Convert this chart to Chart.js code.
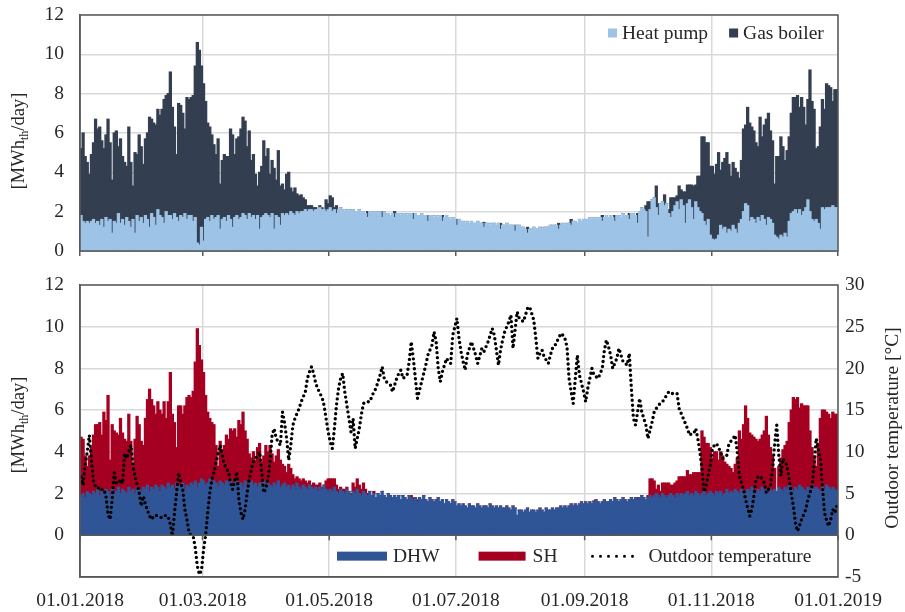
<!DOCTYPE html>
<html>
<head>
<meta charset="utf-8">
<script src="https://cdn.jsdelivr.net/npm/chart.js@4.4.1/dist/chart.umd.min.js"></script>
<style>
  body { margin: 0; background: #fff; }
  #wrap { position: relative; width: 905px; height: 612px; }
  canvas { position: absolute; left: 0; }
  #topChart { top: 0; }
  #bottomChart { top: 270px; }
</style>
</head>
<body>
<div id="wrap">
  <canvas id="topChart" width="905" height="270"></canvas>
  <canvas id="bottomChart" width="905" height="342"></canvas>
</div>
<script>
// x axis: day of year 2018, gridlines every second month
const tickDays = [0, 59, 120, 181, 243, 304, 365];
const tickLabels = ['01.01.2018', '01.03.2018', '01.05.2018', '01.07.2018', '01.09.2018', '01.11.2018', '01.01.2019'];

// top panel, MWh_th/day (one row per month)
const heatPump = [
  1.8,1.5,1.4,1.5,1.4,1.5,1.6,1.4,1.5,1.3,1.6,1.2,1.7,1.5,1.6,0.9,1.5,1.4,1.9,1.4,1.6,1.3,1.7,1.5,1.2,1.6,0.9,1.8,1.5,1.7,1.4,
  1.8,1.6,1.2,1.9,1.7,1.3,2.1,1.8,1.7,1.4,2.0,1.8,1.8,1.6,1.9,1.7,1.5,1.8,1.7,1.9,1.6,1.8,1.8,1.5,1.7,0.4,0.3,1.2,
  0.5,1.6,1.7,1.5,1.8,1.6,1.7,1.8,1.1,1.6,1.7,1.5,1.8,1.6,1.2,1.7,1.8,1.6,1.7,1.9,1.8,1.6,1.9,1.7,1.8,1.6,1.8,1.1,1.7,1.8,1.9,
  1.8,1.7,1.9,1.1,1.8,1.7,1.3,1.9,1.8,1.9,1.8,2.0,1.9,1.8,2.0,1.9,2.0,2.0,2.1,2.0,2.1,2.1,2.0,2.1,2.1,2.2,2.1,2.1,2.0,2.1,
  2.2,2.0,2.1,1.9,2.1,2.2,2.1,2.0,2.1,2.0,2.1,2.1,2.0,2.0,2.1,2.0,2.0,1.9,1.7,2.0,1.9,2.0,2.0,1.9,2.0,1.7,2.0,1.9,1.9,1.8,1.9,
  1.7,1.9,1.9,1.8,1.9,1.9,1.8,1.9,1.9,1.6,1.9,1.8,1.8,1.9,1.8,1.8,1.5,1.8,1.8,1.7,1.8,1.7,1.8,1.5,1.7,1.8,1.7,1.6,1.7,1.6,
  1.3,1.6,1.5,1.5,1.4,1.5,1.4,1.5,1.4,1.4,1.5,1.4,1.4,1.2,1.4,1.4,1.3,1.4,1.4,1.3,1.4,1.1,1.3,1.3,1.4,1.3,1.3,1.3,1.0,1.3,1.3,
  1.2,1.2,1.1,0.9,1.1,1.1,1.2,1.1,1.1,1.2,1.1,1.2,1.2,1.2,1.3,1.3,1.3,1.3,1.1,1.3,1.4,1.3,1.4,1.4,1.3,1.5,1.5,1.4,1.6,1.5,1.6,
  1.6,1.6,1.7,1.6,1.7,1.7,1.6,1.7,1.5,1.7,1.8,1.7,1.8,1.7,1.5,1.8,1.8,1.7,1.9,1.8,1.8,1.6,1.9,1.9,1.8,1.4,2.0,2.2,2.1,2.0,
  0.7,2.1,2.6,2.7,2.2,1.8,2.4,2.5,2.3,2.4,1.9,1.7,2.0,2.3,2.5,2.1,2.6,2.3,1.4,2.4,2.6,2.2,1.6,2.5,2.2,2.0,1.9,1.5,1.3,1.6,0.8,
  0.6,0.55,0.6,0.8,1.3,1.1,1.2,0.9,1.1,1.0,1.3,1.1,0.9,1.4,1.6,2.0,2.4,2.3,1.5,1.7,1.6,1.4,1.7,1.5,1.8,1.6,1.3,1.7,1.6,1.4,
  0.8,0.7,0.6,0.8,0.7,0.9,0.7,1.5,1.9,2.0,2.1,1.9,2.1,1.8,2.0,2.2,2.6,2.0,1.6,1.5,1.6,1.4,1.1,2.2,2.1,2.2,2.2,2.2,2.3,2.2,2.2
];
const gasBoiler = [
  3.4,4.5,3.4,3.0,2.5,3.4,3.9,5.3,4.7,5.0,4.0,4.0,4.2,5.2,3.9,2.7,4.5,4.7,3.4,4.3,3.2,3.2,2.6,4.8,3.3,1.7,4.1,3.1,4.4,3.6,3.0,
  3.9,4.4,5.6,4.8,4.8,5.1,5.1,5.1,5.5,6.3,5.9,6.2,7.3,5.7,4.4,3.2,6.0,5.6,5.3,4.3,6.2,5.9,6.0,6.4,7.7,10.2,9.9,8.2,
  8.0,6.0,4.8,4.8,4.1,3.8,3.2,3.9,2.3,3.0,3.2,3.3,3.0,4.6,4.7,3.2,3.9,4.2,4.5,4.9,4.8,3.7,4.2,2.9,3.1,2.3,1.5,2.9,2.6,3.8,2.9,
  3.4,2.2,2.7,3.1,1.8,3.4,2.0,1.5,1.3,2.0,2.2,1.2,1.1,1.4,0.9,0.9,0.85,0.7,0.5,0.3,0.2,0.2,0.2,0.1,0,0.1,0.1,0,0.6,0.3,
  0.6,0.7,0.1,0.4,0,0,0,0,0,0,0,0,0,0,0,0,0,0,0.3,0,0,0,0,0,0,0.3,0,0,0,0,0,
  0.3,0,0,0,0,0,0,0,0,0.3,0,0,0,0,0,0,0.3,0,0,0,0,0,0,0.3,0,0,0,0,0,0,
  0.3,0,0,0,0,0,0,0,0,0,0,0,0,0.25,0,0,0,0,0,0,0,0.3,0,0,0,0,0,0,0.3,0,0,
  0,0,0,0.3,0,0,0,0,0,0,0,0,0,0,0,0,0,0,0.3,0,0,0,0,0,0.3,0,0,0,0,0,0,
  0,0,0,0,0,0,0,0,0.3,0,0,0,0,0,0.3,0,0,0,0,0,0,0.3,0,0,0,0.5,0,0,0,0.3,
  1.8,0.4,0,0,1.1,0.6,0,0,0.55,0,0.2,1.0,0.7,0.4,0.3,1.2,0.5,0.7,1.6,0.95,0.75,1.15,1.7,0.85,1.6,1.8,3.9,4.3,4.2,3.9,3.5,
  3.7,3.35,3.8,4.2,2.8,3.4,3.5,4.1,3.3,2.8,3.2,3.1,3.1,2.3,3.0,4.2,4.0,5.0,5.0,4.6,4.5,4.1,3.6,5.3,4.0,4.8,5.4,5.3,4.5,4.2,
  2.6,4.1,4.2,5.0,4.6,3.7,4.4,4.3,5.1,5.8,5.7,6.0,5.2,6.0,5.3,4.2,5.1,7.2,6.0,5.7,3.6,3.9,5.2,5.5,5.1,6.3,6.2,6.1,5.3,6.0,6.0
];

// bottom panel, MWh_th/day
const dhw = [
  1.9,2.0,1.8,2.1,2.0,1.9,2.1,2.0,2.2,1.9,2.1,2.0,2.2,2.1,1.9,2.2,2.0,2.1,2.3,2.0,2.2,2.1,2.0,2.3,2.1,2.2,2.0,2.3,2.2,2.1,2.3,
  2.2,2.4,2.1,2.3,2.2,2.4,2.3,2.1,2.4,2.3,2.2,2.5,2.3,2.4,2.2,2.5,2.4,2.3,2.5,2.2,2.4,2.3,2.5,2.4,2.6,2.3,2.5,2.7,
  2.6,2.4,2.5,2.7,2.4,2.6,2.5,2.3,2.6,2.5,2.4,2.6,2.5,2.7,2.4,2.5,2.6,2.4,2.5,2.3,2.6,2.4,2.5,2.6,2.4,2.5,2.3,2.5,2.4,2.6,2.4,
  2.5,2.4,2.3,2.5,2.4,2.6,2.3,2.4,2.5,2.3,2.4,2.2,2.4,2.3,2.5,2.3,2.2,2.4,2.3,2.2,2.4,2.3,2.2,2.3,2.1,2.3,2.2,2.4,2.2,2.1,
  2.2,2.1,2.3,2.1,2.0,2.2,2.1,2.0,2.2,2.1,1.9,2.1,2.0,2.2,2.0,1.9,2.1,2.0,1.9,2.1,1.9,2.0,1.8,2.0,1.9,2.1,1.9,1.8,2.0,1.9,1.8,
  1.9,1.8,1.9,1.7,1.9,1.8,1.7,1.9,1.8,1.7,1.8,1.6,1.8,1.7,1.9,1.7,1.6,1.8,1.7,1.6,1.7,1.8,1.6,1.7,1.5,1.7,1.6,1.5,1.7,1.6,
  1.4,1.5,1.4,1.5,1.4,1.3,1.5,1.4,1.4,1.3,1.5,1.4,1.3,1.4,1.4,1.3,1.5,1.4,1.3,1.4,1.3,1.4,1.3,1.3,1.4,1.3,1.2,1.4,1.3,0.95,1.2,
  1.2,1.1,1.2,1.3,1.1,1.2,1.2,1.1,1.2,1.3,1.2,1.1,1.3,1.2,1.2,1.3,1.2,1.3,1.3,1.4,1.3,1.4,1.3,1.4,1.5,1.4,1.5,1.4,1.5,1.6,1.5,
  1.6,1.5,1.6,1.5,1.6,1.7,1.6,1.5,1.6,1.7,1.6,1.6,1.7,1.6,1.8,1.7,1.6,1.7,1.8,1.7,1.6,1.7,1.8,1.7,1.8,1.7,1.8,1.9,1.8,1.7,
  1.8,1.9,1.8,1.9,2.0,1.9,1.8,2.0,1.9,1.8,1.9,2.0,1.9,1.8,2.0,1.9,2.0,1.9,2.0,2.1,1.9,2.0,1.9,2.1,2.0,1.9,2.0,2.1,1.9,2.0,2.1,
  2.0,1.9,2.1,2.0,2.1,1.9,2.0,2.2,2.0,2.1,2.0,2.2,2.1,2.0,2.2,2.1,2.0,2.2,2.1,2.3,2.1,2.0,2.2,2.1,2.3,2.1,2.2,2.0,2.2,2.1,
  2.2,2.1,2.3,2.2,2.1,2.3,2.2,2.4,2.2,2.1,2.3,2.2,2.4,2.3,2.2,2.1,2.3,2.2,2.4,2.2,2.3,2.2,2.1,2.3,2.2,2.4,2.3,2.2,2.3,2.2,2.1
];
const sh = [
  2.8,2.6,2.0,1.2,1.8,2.3,2.7,3.3,3.1,3.5,2.7,3.9,3.3,4.6,1.7,3.1,3.0,2.8,2.5,3.6,2.7,2.5,2.5,3.5,2.4,1.1,2.6,3.4,3.1,2.4,2.0,
  3.4,4.1,4.9,4.2,4.0,3.4,4.1,3.9,3.4,4.1,3.4,3.9,5.5,3.4,3.2,1.7,3.8,3.9,3.3,4.0,4.2,4.4,4.1,4.5,5.7,7.6,6.6,5.7,
  5.2,4.3,3.4,2.9,3.0,2.7,1.8,1.0,1.9,1.6,1.9,2.2,2.1,2.4,2.6,2.6,2.1,3.1,2.8,3.6,2.4,2.2,1.4,1.1,1.6,1.1,1.9,1.9,1.1,1.2,1.9,
  1.5,1.9,1.6,1.0,1.4,1.5,1.3,1.0,0.8,0.7,1.0,1.0,0.5,0.4,0.3,0.4,0.4,0.3,0.3,0.3,0.2,0.1,0.3,0.1,0.3,0.2,0.1,0,0.4,0.6,
  0.5,0.6,0.4,0.3,0.2,0.1,0.1,0.2,0.1,0,0.1,0.4,0.3,0.5,0.4,0.3,0.4,0.2,0.1,0,0,0.1,0,0,0,0,0,0,0,0,0,
  0,0,0,0,0,0,0,0,0.1,0.1,0,0.1,0,0,0,0,0,0,0,0,0,0,0,0,0,0,0,0,0,0,
  0,0,0,0,0,0,0,0,0,0,0,0,0,0,0,0,0,0,0,0,0,0,0,0,0,0,0,0,0,0,0,
  0,0,0,0,0,0,0,0,0,0,0,0,0,0,0,0,0,0,0,0,0,0,0,0,0,0,0,0,0,0,0,
  0,0,0,0,0.05,0,0,0,0,0,0,0,0,0,0,0,0,0,0,0,0,0,0,0,0,0.1,0,0,0,0,
  0.1,0.8,0.9,0.7,0.2,0.5,0.3,0.5,0.6,0.7,0.6,0.4,0.5,0.7,0.6,0.9,0.8,0.9,0.8,1.0,1.0,0.9,1.1,0.9,1.0,1.1,3.0,2.6,2.5,2.4,2.1,
  1.7,2.1,1.9,1.6,1.9,1.9,1.5,1.2,1.3,1.1,1.0,1.2,1.6,3.0,2.4,3.2,4.2,3.4,2.8,2.5,2.6,2.6,2.3,2.5,2.5,2.9,3.5,2.8,2.0,1.7,
  1.0,0,1.0,1.5,2.0,2.0,2.3,3.0,3.8,4.5,4.2,4.4,3.7,4.0,4.0,4.1,3.9,2.8,1.8,1.6,1.0,2.2,3.5,3.7,3.8,3.5,3.5,3.4,3.6,3.6,3.7
];
// outdoor temperature, °C (right axis)
const outdoorTemp = [
  7,6,8.5,10,12,9,6.5,5.8,5.6,5.8,5.5,5.5,4.7,2.5,1.9,4.3,7.5,6.3,6.2,6.7,6.2,9.8,9.2,10,10.8,8.4,7,6.1,5.1,3.5,4.7,
  3.7,3,2.3,1.9,2.3,2.4,2.3,2.2,2.1,2.3,2.4,2.2,1.3,-0.1,2.7,5.1,7.5,6.3,5.4,3.1,1.9,0.3,0,-0.1,-1.5,-3.7,-4.7,-4.2,
  -1.7,0,2.7,5.1,6.7,7.5,8.8,9.8,10.8,9.6,8.6,8,7.6,6.3,5.5,6.5,7.6,4.3,2.7,1.9,3.1,5.1,6.7,8,8.8,9.2,9.6,10,7.6,5.1,5.6,
  6.7,8.8,12,12.8,11.6,11.2,10.8,14.8,13.5,11.6,9,10.8,13.2,14,14.6,15.2,16,16.6,17.2,18.8,19.6,20.2,19.4,18.2,17.6,17,16.6,15.6,14,12.4,
  11.2,10.4,12.8,15.6,17.6,18.8,19.4,17.2,15.6,14,12.4,14,10.4,11.6,12.8,14.5,15.8,16,16,16,16.6,17.2,17.6,18.4,19.2,20.2,18.8,18.4,18.2,18,17.2,
  18,18.8,19.4,19.8,18.8,19,19.2,20.8,23.2,21.2,18.8,16.4,17.4,18.4,19.4,20.4,21.6,22.2,22.8,24.4,23.2,20,18.4,19.6,20.4,21.2,20.8,20.6,24,25,
  26,23.6,22,20.8,19.8,21.6,22.4,23.2,22.4,21.6,20.6,21.5,22.4,22,22.6,23.2,24,24.8,24,22.2,20.4,22.2,23.4,24.4,25,25.6,26.4,22.4,24.6,26.8,26,
  25.8,25.6,26.4,27.2,27.4,26.6,25.8,23.6,21.2,21.8,22.2,21.4,21,20.6,21.6,22.4,22.6,23.2,23.6,24.2,24,23.6,22.6,18.8,17.2,15.8,18.8,21.6,19.2,18.2,17.2,
  16,17.6,18.8,20,19.2,19,18.8,19.4,20,22.2,23.4,22.6,21.6,20,20.6,21.2,22.4,21.6,20.8,20.6,20.4,21.8,17.6,14,13.2,14.8,16.4,14.8,14,13.2,
  11.6,12.6,13.6,14.8,15.2,15.6,15.8,16,16.4,16.8,17.2,17,17,17,17,15.2,14.6,14,13.4,12.8,12,12.2,12.2,12.8,11.6,10,8,5.2,5.9,7.2,8.4,
  10.4,10.8,11,10.5,10,9.2,9.4,9.6,11,11.3,11.6,12,10,7.1,6.3,5.5,4.3,3.3,2.3,3.1,4.7,6.7,7,7.1,6.7,6.3,5.1,5.5,5.9,8,
  11,13.2,9.6,7.1,9.2,8.8,8.4,6.7,5,3.5,1.5,0.5,1.2,1.9,2.5,3.1,4.3,5.1,5.9,8.4,11.6,10.4,9.2,5.9,2.7,1.8,1.1,1.9,3.1,2.7,3.5
];

const FONT = '"Liberation Serif", "Times New Roman", serif';
const TEXT = '#262626';
const FRAME = '#595959';
const GRID = '#d9d9d9';
const FS = 19.5;

// each daily bar sits in the middle of its day
const toPoints = arr => arr.map((v, i) => ({ x: i + 0.5, y: v }));

const frame = {
  id: 'frame',
  afterDatasetsDraw(chart, args, opts) {
    const { ctx, chartArea: a, scales } = chart;
    ctx.save();
    ctx.strokeStyle = FRAME;
    ctx.lineWidth = 1.5;
    ctx.strokeRect(a.left, a.top, a.right - a.left, a.bottom - a.top);
    if (opts.zeroLine) {
      const y0 = scales.y.getPixelForValue(0);
      ctx.beginPath();
      ctx.moveTo(a.left, y0);
      ctx.lineTo(a.right, y0);
      scales.x.ticks.forEach(t => {
        const x = scales.x.getPixelForValue(t.value);
        ctx.moveTo(x, y0);
        ctx.lineTo(x, y0 + 5);
      });
      ctx.stroke();
    }
    ctx.restore();
  }
};

const boxLegend = {
  id: 'boxLegend',
  afterDraw(chart, args, o) {
    const { ctx } = chart;
    ctx.save();
    ctx.font = FS + 'px ' + FONT;
    ctx.textBaseline = 'middle';
    const y = o.y(chart);
    let x = o.x(chart);
    o.items.forEach(it => {
      const ds = chart.data.datasets[it.ds];
      if (it.dots) {
        ctx.save();
        ctx.strokeStyle = ds.borderColor;
        ctx.lineWidth = 3;
        ctx.lineCap = 'round';
        ctx.setLineDash([0, 8]);
        ctx.beginPath();
        ctx.moveTo(x + 2, y);
        ctx.lineTo(x + it.w, y);
        ctx.stroke();
        ctx.restore();
      } else {
        ctx.fillStyle = ds.backgroundColor;
        ctx.fillRect(x, y - it.h / 2, it.w, it.h);
      }
      x += it.w + it.gap;
      ctx.fillStyle = TEXT;
      ctx.fillText(ds.label, x, y + 1);
      x += ctx.measureText(ds.label).width + (it.after || 0);
    });
    ctx.restore();
  }
};

// rotated axis titles, the left one with a subscript
const axisTitles = {
  id: 'axisTitles',
  afterDraw(chart, args, o) {
    const { ctx, chartArea: a } = chart;
    const cy = (a.top + a.bottom) / 2 + o.shift;
    ctx.save();
    ctx.fillStyle = TEXT;
    ctx.translate(19, cy);
    ctx.rotate(-Math.PI / 2);
    const big = '18.5px ' + FONT, small = '12px ' + FONT;
    ctx.font = big;
    const w1 = ctx.measureText('[MWh').width, w3 = ctx.measureText('/day]').width;
    ctx.font = small;
    const w2 = ctx.measureText('th').width;
    let x = -(w1 + w2 + w3) / 2;
    ctx.font = big; ctx.fillText('[MWh', x, 5); x += w1;
    ctx.font = small; ctx.fillText('th', x, 9); x += w2;
    ctx.font = big; ctx.fillText('/day]', x, 5);
    ctx.restore();
    if (o.right) {
      ctx.save();
      ctx.fillStyle = TEXT;
      ctx.font = FS + 'px ' + FONT;
      ctx.textAlign = 'center';
      ctx.textBaseline = 'middle';
      ctx.translate(chart.width - 12, (a.top + a.bottom) / 2 - 3);
      ctx.rotate(-Math.PI / 2);
      ctx.fillText(o.right, 0, 0);
      ctx.restore();
    }
  }
};

// fixed axis box sizes; edge labels may overhang the plot like in the original
const fixY = w => s => { s.width = w; s.paddingTop = 0; s.paddingBottom = 0; };

const xScale = (showLabels) => ({
  type: 'linear', min: 0, max: 365, stacked: true, offset: false,
  afterBuildTicks: s => { s.ticks = tickDays.map(v => ({ value: v })); },
  afterFit: s => { s.height = showLabels ? 35 : 19; s.paddingLeft = 0; s.paddingRight = 0; },
  ticks: {
    display: showLabels, autoSkip: false, maxRotation: 0, padding: 12,
    color: TEXT, font: { family: FONT, size: FS },
    callback: v => tickLabels[tickDays.indexOf(v)]
  },
  grid: { color: GRID, lineWidth: 1.5, offset: false, drawTicks: !showLabels, tickLength: 5, tickColor: FRAME },
  border: { color: FRAME, width: 1.5 }
});

const barDefaults = { barPercentage: 1, categoryPercentage: 1, borderWidth: 0, inflateAmount: 0.6 };

new Chart(document.getElementById('topChart'), {
  type: 'bar',
  data: {
    datasets: [
      { label: 'Heat pump', data: toPoints(heatPump), backgroundColor: '#9dc3e6' },
      { label: 'Gas boiler', data: toPoints(gasBoiler), backgroundColor: '#333f50' }
    ]
  },
  options: {
    responsive: false, animation: false, devicePixelRatio: 1, events: [],
    layout: { padding: { top: 15, right: 67, left: 0, bottom: 0 } },
    datasets: { bar: barDefaults },
    plugins: {
      legend: { display: false }, tooltip: { enabled: false },
      frame: {},
      boxLegend: {
        x: c => c.chartArea.left + 528, y: c => c.chartArea.top + 18,
        items: [{ ds: 0, w: 9, h: 9, gap: 5, after: 21 }, { ds: 1, w: 9, h: 9, gap: 5 }]
      },
      axisTitles: { shift: 8 }
    },
    scales: {
      x: xScale(false),
      y: {
        min: 0, max: 12, stacked: true,
        afterFit: fixY(80),
        ticks: { stepSize: 2, padding: 16, color: TEXT, font: { family: FONT, size: FS } },
        grid: { color: GRID, lineWidth: 1.5, drawTicks: false },
        border: { color: FRAME, width: 1.5 }
      }
    }
  },
  plugins: [frame, boxLegend, axisTitles]
});

new Chart(document.getElementById('bottomChart'), {
  type: 'bar',
  data: {
    datasets: [
      {
        type: 'line', label: 'Outdoor temperature', data: toPoints(outdoorTemp), yAxisID: 'y2', order: 0,
        borderColor: '#000', borderWidth: 3.4, borderDash: [0, 5], borderCapStyle: 'round',
        pointRadius: 0, tension: 0, fill: false
      },
      { label: 'DHW', data: toPoints(dhw), backgroundColor: '#2f5597', order: 1 },
      { label: 'SH', data: toPoints(sh), backgroundColor: '#a50021', order: 1 }
    ]
  },
  options: {
    responsive: false, animation: false, devicePixelRatio: 1, events: [],
    layout: { padding: { top: 15, right: 0, left: 0, bottom: 0 } },
    datasets: { bar: barDefaults },
    plugins: {
      legend: { display: false }, tooltip: { enabled: false },
      frame: { zeroLine: true },
      boxLegend: {
        x: c => c.chartArea.left + 257,
        y: c => (c.scales.y.getPixelForValue(0) + c.chartArea.bottom) / 2,
        items: [
          { ds: 1, w: 50, h: 9, gap: 6, after: 39 },
          { ds: 2, w: 47, h: 9, gap: 7, after: 33 },
          { ds: 0, w: 48, gap: 10, dots: true }
        ]
      },
      axisTitles: { shift: -6, right: 'Outdoor temperature [°C]' }
    },
    scales: {
      x: xScale(true),
      y: {
        min: -2, max: 12, stacked: true,
        afterFit: fixY(80),
        ticks: { stepSize: 2, padding: 16, color: TEXT, font: { family: FONT, size: FS }, callback: v => (v < 0 ? '' : v) },
        grid: { color: c => (c.tick.value > 0 ? GRID : 'rgba(0,0,0,0)'), lineWidth: 1.5, drawTicks: false },
        border: { color: FRAME, width: 1.5 }
      },
      y2: {
        position: 'right', min: -5, max: 30,
        afterFit: fixY(67),
        ticks: { stepSize: 5, padding: 7, color: TEXT, font: { family: FONT, size: FS } },
        grid: { drawOnChartArea: false, drawTicks: false },
        border: { display: false }
      }
    }
  },
  plugins: [frame, boxLegend, axisTitles]
});
</script>
</body>
</html>
